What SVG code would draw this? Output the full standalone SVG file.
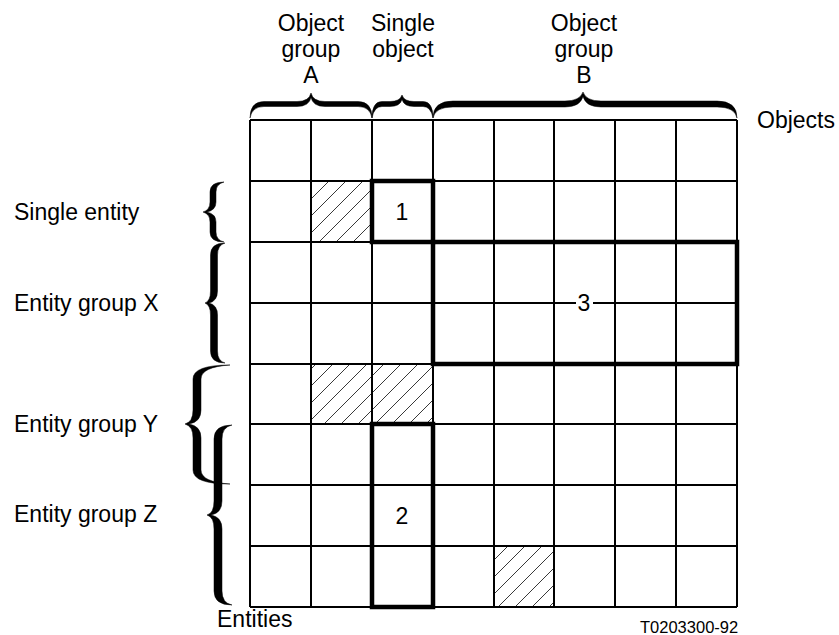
<svg xmlns="http://www.w3.org/2000/svg" width="839" height="635" viewBox="0 0 839 635">
<style>
  text { font-family: "Liberation Sans", Arial, sans-serif; font-size: 23px; fill: #000; }
  .mid { text-anchor: middle; }
  .grid { stroke: #000; stroke-width: 2; fill: none; }
  .thick { stroke: #000; stroke-width: 4.5; fill: none; }
  .brace { fill: #000; stroke: #000; stroke-width: 0.5; }
  .code { font-size: 16.5px; }
</style>
<defs>
  <pattern id="hatch" patternUnits="userSpaceOnUse" width="17" height="17">
    <path d="M0,17 L17,0 M-3,3 L3,-3 M14,20 L20,14" stroke="#222" stroke-width="0.9" fill="none"/>
  </pattern>
</defs>
<rect width="839" height="635" fill="#fff"/>

<g id="hatched-cells">
  <rect x="311" y="181" width="61" height="61" fill="url(#hatch)"/>
  <rect x="311" y="364" width="61" height="60" fill="url(#hatch)"/>
  <rect x="372" y="364" width="61" height="60" fill="url(#hatch)"/>
  <rect x="494" y="546" width="60" height="61" fill="url(#hatch)"/>
</g>

<g id="grid" class="grid">
  <path d="M250,120 V607 M311,120 V607 M372,120 V607 M433,120 V607 M494,120 V607 M554,120 V607 M615,120 V607 M676,120 V607 M737,120 V607"/>
  <path d="M250,120 H737 M250,181 H737 M250,242 H737 M250,303 H737 M250,364 H737 M250,424 H737 M250,485 H737 M250,546 H737 M250,607 H737"/>
</g>

<g id="box1">
  <rect class="thick" x="372" y="181" width="61" height="61"/>
  <text class="mid" x="402" y="220">1</text>
</g>
<g id="box2">
  <rect class="thick" x="372" y="424" width="61" height="183"/>
  <text class="mid" x="402" y="524">2</text>
</g>
<g id="box3">
  <rect class="thick" x="433" y="242" width="304" height="122"/>
  <rect x="576" y="292" width="17" height="22" fill="#fff"/>
  <text class="mid" x="584" y="311">3</text>
</g>

<g id="brace-object-group-a">
  <path class="brace" d="M250,118 Q250,101.5 264,101.5 L297,101.5 Q309,101.5 311,93 Q313,101.5 325,101.5 L358,101.5 Q372,101.5 372,118 Q370,106.5 358,106.5 L325,106.5 Q313,106.5 311,97.5 Q309,106.5 297,106.5 L264,106.5 Q252,106.5 250,118 Z"/>
  <text class="mid" x="311" y="31">Object</text>
  <text class="mid" x="311" y="57">group</text>
  <text class="mid" x="311" y="83">A</text>
</g>
<g id="brace-single-object">
  <path class="brace" d="M372,118 Q372,101.5 382,101.5 L390,101.5 Q400,101.5 402,95 Q404,101.5 414,101.5 L423,101.5 Q433,101.5 433,118 Q431,106.5 423,106.5 L414,106.5 Q404,106.5 402,99.5 Q400,106.5 390,106.5 L382,106.5 Q374,106.5 372,118 Z"/>
  <text class="mid" x="403" y="31">Single</text>
  <text class="mid" x="403" y="57">object</text>
</g>
<g id="brace-object-group-b">
  <path class="brace" d="M433,118 Q433,101 453,101 L565,101 Q580,101 583,92 Q586,101 601,101 L717,101 Q737,101 737,118 Q735,107 717,107 L601,107 Q586,107 583,96.5 Q580,107 565,107 L453,107 Q435,107 433,118 Z"/>
  <text class="mid" x="584" y="31">Object</text>
  <text class="mid" x="584" y="57">group</text>
  <text class="mid" x="584" y="83">B</text>
</g>
<g id="label-objects">
  <text x="757" y="128">Objects</text>
</g>

<g id="brace-single-entity">
  <path class="brace" d="M224,182 Q210,182 210,192 L210,202 Q210,210 203,212 Q210,214 210,222 L210,232 Q210,242 224,242 Q216,240 216,232 L216,222 Q216,214 207,212 Q216,210 216,202 L216,192 Q216,184 224,182 Z"/>
  <text x="14" y="220">Single entity</text>
</g>
<g id="brace-entity-group-x">
  <path class="brace" d="M225,243 Q210.5,243 210.5,255 L210.5,291 Q210.5,301 205,303 Q210.5,305 210.5,315 L210.5,351 Q210.5,363 225,363 Q217.5,361 217.5,351 L217.5,315 Q217.5,305 209,303 Q217.5,301 217.5,291 L217.5,255 Q217.5,245 225,243 Z"/>
  <text x="14" y="311">Entity group X</text>
</g>
<g id="brace-entity-group-y">
  <path class="brace" d="M230,365 Q193,365 193,379 L193,410 Q193,422 185,424 Q193,426 193,438 L193,470 Q193,484 230,484 Q201,482 201,470 L201,438 Q201,426 189,424 Q201,422 201,410 L201,379 Q201,367 230,365 Z"/>
  <text x="14" y="432">Entity group Y</text>
</g>
<g id="brace-entity-group-z">
  <path class="brace" d="M232,425 Q214,425 214,439 L214,501 Q214,513 207,515 Q214,517 214,529 L214,591 Q214,605 232,605 Q222,603 222,591 L222,529 Q222,517 211,515 Q222,513 222,501 L222,439 Q222,427 232,425 Z"/>
  <text x="14" y="522">Entity group Z</text>
</g>
<g id="label-entities">
  <text x="217" y="627">Entities</text>
</g>
<g id="label-code">
  <text class="code" x="640" y="633">T0203300-92</text>
</g>
</svg>
